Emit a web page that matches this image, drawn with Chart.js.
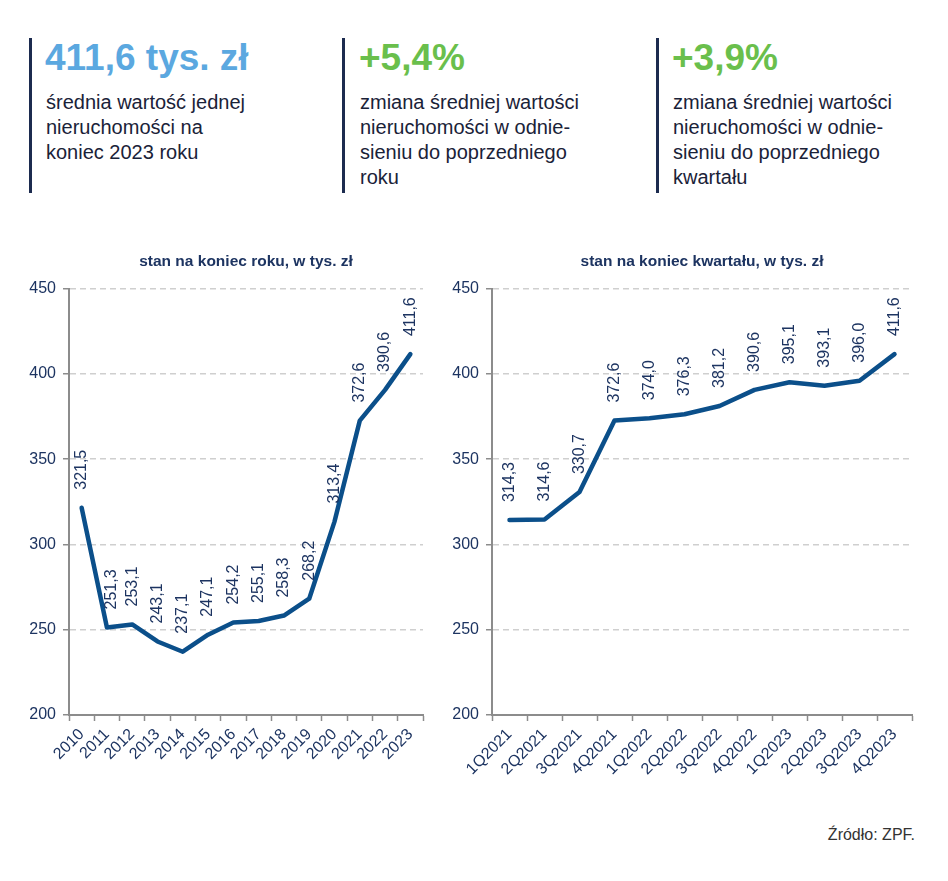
<!DOCTYPE html>
<html lang="pl">
<head>
<meta charset="utf-8">
<script src="https://cdn.jsdelivr.net/npm/chart.js@4"></script>
<style>
  html, body { margin: 0; padding: 0; background: #fff; }
  body { width: 948px; height: 881px; position: relative; overflow: hidden;
         font-family: "Liberation Sans", Arial, sans-serif; color: #1a2238; }
  .bar { position: absolute; top: 38px; width: 3px; height: 155px; background: #1c2b4f; }
  .big { position: absolute; top: 38px; font-size: 37px; line-height: 40px; font-weight: bold; white-space: nowrap; }
  .sub { position: absolute; top: 90px; font-size: 20px; line-height: 25px; }
  .box { position: absolute; top: 240px; }
  #src { position: absolute; right: 33px; top: 826px; font-size: 16px; color: #333; }
</style>
</head>
<body>
<div class="bar" style="left:29px"></div>
<div class="big" style="left:45px;color:#5ba8e0">411,6 tys. zł</div>
<div class="sub" style="left:46px">średnia wartość jednej<br>nieruchomości na<br>koniec 2023 roku</div>

<div class="bar" style="left:342px"></div>
<div class="big" style="left:359px;color:#6abf4c">+5,4%</div>
<div class="sub" style="left:360px">zmiana średniej wartości<br>nieruchomości w odnie-<br>sieniu do poprzedniego<br>roku</div>

<div class="bar" style="left:656px"></div>
<div class="big" style="left:672px;color:#6abf4c">+3,9%</div>
<div class="sub" style="left:673px">zmiana średniej wartości<br>nieruchomości w odnie-<br>sieniu do poprzedniego<br>kwartału</div>

<div class="box" style="left:20px;width:410px;height:520px"><canvas id="yearChart"></canvas></div>
<div class="box" style="left:440px;width:480px;height:540px"><canvas id="quarterChart"></canvas></div>

<div id="src">Źródło: ZPF.</div>

<script>
const years = ["2010", "2011", "2012", "2013", "2014", "2015", "2016",
               "2017", "2018", "2019", "2020", "2021", "2022", "2023"];
const yearValues = [321.5, 251.3, 253.1, 243.1, 237.1, 247.1, 254.2,
                    255.1, 258.3, 268.2, 313.4, 372.6, 390.6, 411.6];

const quarters = ["1Q2021", "2Q2021", "3Q2021", "4Q2021", "1Q2022", "2Q2022",
                  "3Q2022", "4Q2022", "1Q2023", "2Q2023", "3Q2023", "4Q2023"];
const quarterValues = [314.3, 314.6, 330.7, 372.6, 374.0, 376.3,
                       381.2, 390.6, 395.1, 393.1, 396.0, 411.6];

const yTicks = [200, 250, 300, 350, 400, 450];

const NAVY = "#1d3461";
const LINE = "#0b4f8a";
const GRAY = "#8c8c8c";
const FONT = '"Liberation Sans", Arial, sans-serif';

// vertical value labels above each point
const valueLabels = {
    id: "valueLabels",
    afterDatasetsDraw(chart) {
        const ctx = chart.ctx;
        const meta = chart.getDatasetMeta(0);
        const data = chart.data.datasets[0].data;
        ctx.save();
        ctx.font = "16px " + FONT;
        ctx.fillStyle = NAVY;
        ctx.textAlign = "left";
        ctx.textBaseline = "middle";
        meta.data.forEach(function(pt, i) {
            // push the label off a steep falling segment
            const dx = (i > 0 && data[i - 1] - data[i] > 30) ? 5 : 0;
            ctx.save();
            ctx.translate(pt.x + dx, pt.y - 18);
            ctx.rotate(-Math.PI / 2);
            ctx.fillText(data[i].toFixed(1).replace(".", ","), 0, 0);
            ctx.restore();
        });
        ctx.restore();
    }
};

function makeChart(id, labels, values, title, axisWidth, padRight, xHeight) {
    return new Chart(document.getElementById(id), {
        type: "line",
        data: {
            labels: labels,
            datasets: [{
                data: values,
                borderColor: LINE,
                borderWidth: 4.5,
                pointRadius: 0,
                tension: 0,
                borderJoinStyle: "round",
                borderCapStyle: "round"
            }]
        },
        options: {
            responsive: true,
            maintainAspectRatio: false,
            animation: false,
            events: [],
            layout: { padding: { left: 0, right: padRight, top: 0, bottom: 0 } },
            plugins: {
                legend: { display: false },
                tooltip: { enabled: false },
                title: {
                    display: true,
                    text: title,
                    fullSize: false,
                    color: NAVY,
                    font: { family: FONT, size: 15.5, weight: "bold" },
                    padding: { top: 12, bottom: 18 }
                }
            },
            scales: {
                x: {
                    type: "category",
                    offset: true,
                    afterFit: function(s) { s.height = xHeight; },
                    grid: {
                        display: true,
                        drawOnChartArea: false,
                        drawTicks: true,
                        tickLength: 6,
                        tickColor: GRAY,
                        tickWidth: 1.5,
                        offset: true
                    },
                    border: { display: true, color: GRAY, width: 2 },
                    ticks: {
                        autoSkip: false,
                        maxRotation: 45,
                        minRotation: 45,
                        padding: 4,
                        color: NAVY,
                        font: { family: FONT, size: 16 }
                    }
                },
                y: {
                    min: 200,
                    max: 450,
                    afterFit: function(s) { s.width = axisWidth; },
                    afterBuildTicks: function(s) { s.ticks = yTicks.map(function(v) { return { value: v }; }); },
                    grid: {
                        color: "#cfcfcf",
                        lineWidth: 1.5,
                        tickLength: 6,
                        tickColor: GRAY,
                        tickWidth: 1.5
                    },
                    border: { display: true, color: GRAY, width: 2, dash: [6, 4] },
                    ticks: {
                        padding: 7,
                        color: NAVY,
                        font: { family: FONT, size: 16 }
                    }
                }
            }
        },
        plugins: [valueLabels]
    });
}

makeChart("yearChart", years, yearValues, "stan na koniec roku, w tys. zł", 49, 7, 45);
makeChart("quarterChart", quarters, quarterValues, "stan na koniec kwartału, w tys. zł", 52, 8, 65);
</script>
</body>
</html>
